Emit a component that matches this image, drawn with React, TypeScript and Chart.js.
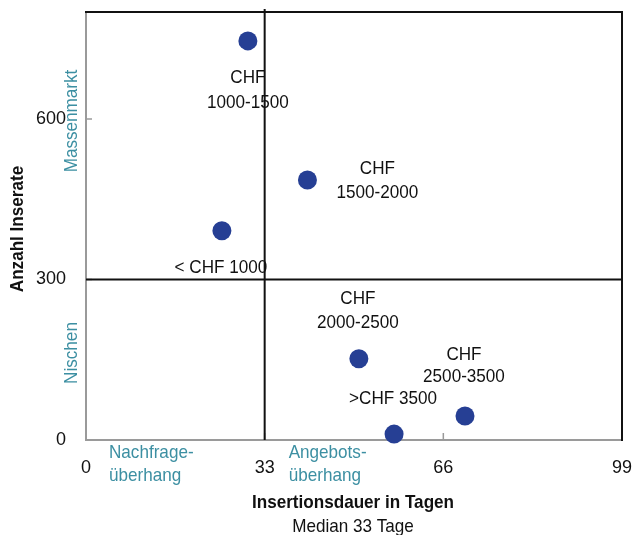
import React, { useEffect, useRef } from 'react';
import { Chart, registerables } from 'chart.js';

Chart.register(...registerables);

// ---- data ----
const categories = ['CHF 1000-1500', 'CHF 1500-2000', '< CHF 1000', 'CHF 2000-2500', 'CHF 2500-3500', '>CHF 3500'];
const labelLines = [['CHF', '1000-1500'], ['CHF', '1500-2000'], ['< CHF 1000'], ['CHF', '2000-2500'], ['CHF', '2500-3500'], ['>CHF 3500']];
const daysValues = [29.9, 40.9, 25.1, 50.4, 70.0, 56.9];
const countValues = [746, 486, 391, 152, 45, 11];
const xTicks = [0, 33, 66, 99];
const yTicks = [0, 300, 600];
const medianDays = 33;
const thresholdCount = 300;
const xTitle = 'Insertionsdauer in Tagen';
const xSubtitle = 'Median 33 Tage';
const yTitle = 'Anzahl Inserate';
const quadrantY = ['Massenmarkt', 'Nischen'];
const quadrantX = [['Nachfrage-', 'überhang'], ['Angebots-', 'überhang']];

// ---- styles / layout ----
const FONT = '"Liberation Sans", Arial, sans-serif';
const POINT_COLOR = '#263f94';
const TEAL = '#3c8fa2';
const SX = 0.9; // horizontal condensing of text
const labelOffsets = [
  { dx: 0, dy: 37, lh: 25 },
  { dx: 70, dy: -11, lh: 24 },
  { dx: -1, dy: 37, lh: 24 },
  { dx: -1, dy: -60, lh: 24 },
  { dx: -1, dy: -61, lh: 22 },
  { dx: -1, dy: -35, lh: 24 },
];

function drawText(ctx: CanvasRenderingContext2D, t: string, x: number, y: number, align: CanvasTextAlign, rot = 0) {
  ctx.save();
  ctx.translate(x, y);
  if (rot) ctx.rotate(rot);
  ctx.scale(SX, 1);
  ctx.textAlign = align;
  ctx.textBaseline = 'middle';
  ctx.fillText(t, 0, 0);
  ctx.restore();
}

const overlayPlugin = {
  id: 'overlay',
  beforeDatasetsDraw(chart: any) {
    const { ctx, chartArea: a, scales } = chart;
    const x = scales.x, y = scales.y;
    ctx.save();
    ctx.strokeStyle = '#9a9a9a';
    ctx.lineWidth = 2;
    ctx.beginPath();
    ctx.moveTo(a.left, a.top);
    ctx.lineTo(a.left, a.bottom);
    ctx.lineTo(a.right, a.bottom);
    ctx.stroke();
    ctx.lineWidth = 1.5;
    ctx.beginPath();
    xTicks.forEach((v) => {
      const px = x.getPixelForValue(v);
      ctx.moveTo(px, a.bottom);
      ctx.lineTo(px, a.bottom - 7);
    });
    yTicks.forEach((v) => {
      const py = y.getPixelForValue(v);
      ctx.moveTo(a.left, py);
      ctx.lineTo(a.left + 6, py);
    });
    ctx.stroke();
    ctx.strokeStyle = '#111';
    ctx.lineWidth = 2;
    ctx.beginPath();
    ctx.moveTo(a.left - 1, a.top);
    ctx.lineTo(a.right, a.top);
    ctx.lineTo(a.right, a.bottom + 1);
    ctx.stroke();
    const mx = x.getPixelForValue(medianDays);
    const ty = y.getPixelForValue(thresholdCount);
    ctx.beginPath();
    ctx.moveTo(mx, a.top - 3);
    ctx.lineTo(mx, a.bottom);
    ctx.moveTo(a.left, ty);
    ctx.lineTo(a.right, ty);
    ctx.stroke();
    ctx.restore();
  },
  afterDatasetsDraw(chart: any) {
    const { ctx, chartArea: a, scales } = chart;
    const x = scales.x, y = scales.y;
    ctx.save();
    ctx.fillStyle = '#111';
    ctx.font = `19px ${FONT}`;
    labelLines.forEach((lines, i) => {
      const px = x.getPixelForValue(daysValues[i]);
      const py = y.getPixelForValue(countValues[i]);
      const o = labelOffsets[i];
      lines.forEach((t, j) => drawText(ctx, t, px + o.dx, py + o.dy + j * o.lh, 'center'));
    });
    ctx.fillStyle = TEAL;
    const yPos = [121, 353];
    quadrantY.forEach((t, i) => drawText(ctx, t, a.left - 14, yPos[i], 'center', -Math.PI / 2));
    const xStarts = [a.left + 23, x.getPixelForValue(medianDays) + 24];
    quadrantX.forEach((lines, i) => {
      lines.forEach((t, j) => drawText(ctx, t, xStarts[i], a.bottom + 13 + j * 23, 'left'));
    });
    ctx.fillStyle = '#111';
    const cx = (a.left + a.right) / 2;
    ctx.font = `bold 19px ${FONT}`;
    drawText(ctx, xTitle, cx - 1, a.bottom + 63, 'center');
    ctx.font = `19px ${FONT}`;
    drawText(ctx, xSubtitle, cx - 1, a.bottom + 87, 'center');
    ctx.font = `bold 19px ${FONT}`;
    drawText(ctx, yTitle, 18, 229, 'center', -Math.PI / 2);
    ctx.restore();
  },
};

export default function App() {
  const ref = useRef<HTMLCanvasElement | null>(null);
  useEffect(() => {
    if (!ref.current) return;
    const chart = new Chart(ref.current, {
      type: 'scatter',
      data: {
        labels: categories,
        datasets: [
          {
            label: 'Preisklassen',
            data: daysValues.map((d, i) => ({ x: d, y: countValues[i] })),
            backgroundColor: POINT_COLOR,
            borderColor: POINT_COLOR,
            pointRadius: 9.5,
            borderWidth: 0,
            clip: false as any,
          },
        ],
      },
      options: {
        responsive: false,
        animation: false,
        layout: { autoPadding: false, padding: { left: 0, top: 12, right: 11, bottom: 0 } },
        plugins: { legend: { display: false }, tooltip: { enabled: false } },
        scales: {
          x: {
            type: 'linear',
            min: 0,
            max: 99,
            afterBuildTicks: (s: any) => { s.ticks = xTicks.map((v) => ({ value: v })); },
            afterFit: (s: any) => { s.height = 95; s.paddingLeft = 0; s.paddingRight = 0; },
            grid: { display: false, drawTicks: false },
            border: { display: false },
            ticks: { color: '#111', font: { family: FONT, size: 18 }, padding: 17, maxRotation: 0, autoSkip: false },
          },
          y: {
            type: 'linear',
            min: 0,
            max: 800,
            afterBuildTicks: (s: any) => { s.ticks = yTicks.map((v) => ({ value: v })); },
            afterFit: (s: any) => { s.width = 86; s.paddingTop = 0; s.paddingBottom = 0; },
            grid: { display: false, drawTicks: false },
            border: { display: false },
            ticks: { color: '#111', font: { family: FONT, size: 18 }, padding: 20, autoSkip: false },
          },
        },
      },
      plugins: [overlayPlugin],
    });
    return () => chart.destroy();
  }, []);
  return (
    <div style={{ position: 'absolute', left: 0, top: 0, width: 633, height: 535, background: '#fff' }}>
      <canvas ref={ref} width={633} height={535} />
    </div>
  );
}
